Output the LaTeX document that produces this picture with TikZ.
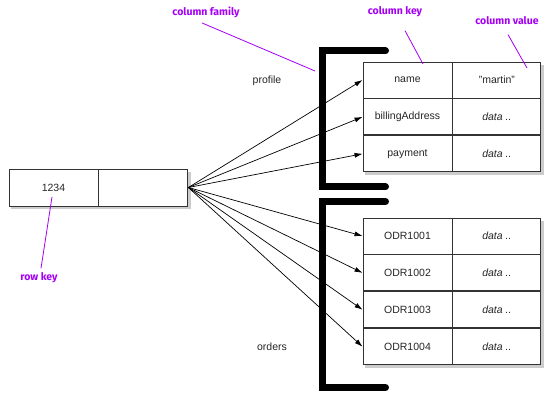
\documentclass[tikz,border=0pt]{standalone}
\usepackage{fontspec}
\setmainfont{Liberation Sans}
\newfontfamily\notefont{Fira Sans}
\usepackage{tikz}
\usetikzlibrary{positioning,arrows.meta,shadows,fit,backgrounds}
\definecolor{notepurple}{HTML}{A400F5}

\begin{document}
\begin{tikzpicture}[x=1pt,y=-1pt,>={Latex[length=8pt,width=5pt]},
	cell/.style={draw=black!80,line width=0.9pt,minimum width=89,minimum height=36,inner sep=0pt,font=\fontsize{10.5}{12}\selectfont,text=black!85},
	val/.style={cell,minimum width=88,font=\fontsize{10.5}{12}\selectfont\itshape},
	tab/.style={fill=white,inner sep=0pt,drop shadow={shadow xshift=2.5pt,shadow yshift=-3pt,opacity=0.4}},
	cf/.style={line width=7pt,line cap=round},
	note/.style={font=\notefont\bfseries\fontsize{10.5}{12}\selectfont,text=notepurple},
	pointer/.style={draw=notepurple,line width=0.8pt},
	arr/.style={->,line width=0.7pt}]
	\useasboundingbox (0,0) rectangle (557,403);

	% row key
	\node[cell,minimum height=37] (rowk) at (53.5,187.5) {1234};
	\node[cell,minimum height=37] (rk) [right=0pt of rowk] {};

	% profile column family
	\node[cell] (pname) at (407.5,80) {name};
	\node[cell] (pbill) [below=0pt of pname] {billingAddress};
	\node[cell] (ppay) [below=0pt of pbill] {payment};
	\node[val,font=\fontsize{10.5}{12}\selectfont] (pnamev) [right=0pt of pname] {"martin"};
	\node[val] (pbillv) [right=0pt of pbill] {data ..};
	\node[val] (ppayv) [right=0pt of ppay] {data ..};

	% orders column family
	\node[cell] (o1) at (407.5,236) {ODR1001};
	\node[cell] (o2) [below=0pt of o1] {ODR1002};
	\node[cell] (o3) [below=0pt of o2] {ODR1003};
	\node[cell] (o4) [below=0pt of o3] {ODR1004};
	\foreach \r in {1,...,4}
		\node[val] (o\r v) [right=0pt of o\r] {data ..};

	\begin{scope}[on background layer]
		\node[tab,fit=(rowk)(rk)] {};
		\node[tab,fit=(pname)(ppayv)] {};
		\node[tab,fit=(o1)(o4v)] {};
	\end{scope}

	\draw[cf] (385.5,51) -- (322.5,51) -- (322.5,187) -- (385.5,187);
	\draw[cf] (385.5,201.5) -- (322.5,201.5) -- (322.5,387.5) -- (385.5,387.5);
	\node[font=\fontsize{10.5}{12}\selectfont,text=black!85] (profile) at (267,81) {profile};
	\node[font=\fontsize{10.5}{12}\selectfont,text=black!85] (orders) at (272,347) {orders};

	\foreach \t in {pname,pbill,ppay,o1,o2,o3,o4}
		\draw[arr] (rk.east) -- (\t.west);

	% notes
	\node[note] (cflab) at (206,12) {column family};
	\node[note] (cklab) at (395,12) {column key};
	\node[note] (cvlab) at (507,21) {column value};
	\node[note] (rklab) at (39,278) {row key};
	\coordinate (cfend) at (315,71);
	\coordinate (ckend) at (423,64);
	\coordinate (cvend) at (527,68);
	\coordinate (rkend) at (52,197);
	\draw[pointer] (cflab.south) ++(-4,2) -- (cfend);
	\draw[pointer] (cklab.south) ++(10,10) -- (ckend);
	\draw[pointer] (cvlab.south) ++(1,6) -- (cvend);
	\draw[pointer] (rklab.north) ++(2,-1) -- (rkend);
\end{tikzpicture}
\end{document}
